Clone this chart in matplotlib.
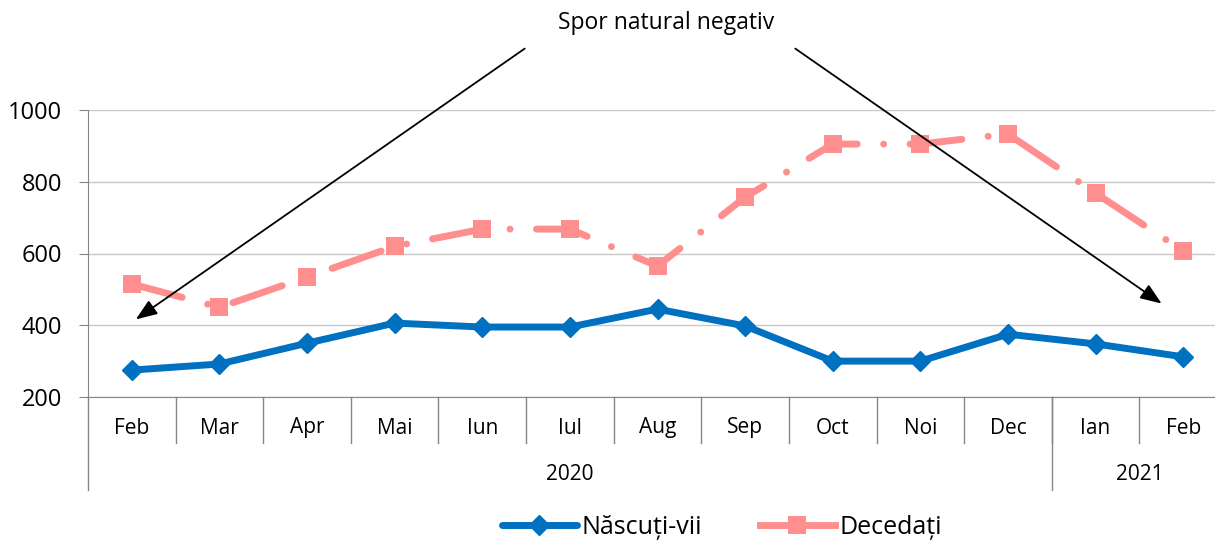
import matplotlib.pyplot as plt
import matplotlib.transforms as mtransforms

# data
months = ['Feb', 'Mar', 'Apr', 'Mai', 'Iun', 'Iul', 'Aug', 'Sep', 'Oct', 'Noi', 'Dec', 'Ian', 'Feb']
years = ['2020', '2021']
year_counts = [11, 2]
nascuti = [275, 292, 350, 406, 395, 395, 445, 398, 300, 300, 375, 348, 312]
decedati = [515, 450, 534, 620, 668, 668, 565, 757, 905, 905, 933, 768, 607]

plt.rcParams['font.family'] = ['Open Sans', 'DejaVu Sans']

fig = plt.figure(figsize=(12.15, 5.42), dpi=100)
ax = fig.add_axes([88/1215, 1-397/542, (1227-88)/1215, (397-110)/542])

x = list(range(len(months)))
blue = '#0070C0'
pink = '#FF8F8F'

ax.plot(x, nascuti, color=blue, lw=5, marker='D', ms=10, solid_capstyle='round',
        solid_joinstyle='round', label='Născuți-vii', zorder=4)
l2, = ax.plot(x, decedati, color=pink, lw=5, marker='s', ms=12.5, mew=0,
              dash_capstyle='round', label='Decedați', zorder=3)
l2.set_dashes((7.5, 3.8, 0.01, 3.8))

ax.set_xlim(-0.5, len(months) - 0.5)
ax.set_ylim(200, 1000)
ax.set_yticks([200, 400, 600, 800, 1000])
ax.tick_params(axis='y', labelsize=17, length=6.5, color='#868686', pad=12)
ax.yaxis.grid(True, color='#c8c8c8', lw=1)
ax.set_axisbelow(True)
ax.set_xticks([])
for s in ['top', 'right']:
    ax.spines[s].set_visible(False)
ax.spines['left'].set_color('#868686')
ax.spines['bottom'].set_color('#868686')

# two-level category axis
trans = mtransforms.blended_transform_factory(ax.transData, fig.transFigure)
y_axis = 1 - 397/542
y_lvl1 = 1 - 443/542
y_lvl2 = 1 - 490/542
for i in range(len(months)):
    ax.text(i, 1 - 428/542, months[i], transform=trans, ha='center', va='center', fontsize=15)
for i in range(1, len(months)):
    ax.plot([i - 0.5, i - 0.5], [y_axis, y_lvl1], transform=trans, color='#868686', lw=1, clip_on=False)
ax.plot([-0.5, -0.5], [y_axis, y_lvl2], transform=trans, color='#868686', lw=1, clip_on=False)
start = 0
for yr, n in zip(years, year_counts):
    ax.text(start + (n - 1) / 2, 1 - 475/542, yr, transform=trans, ha='center', va='center', fontsize=15)
    start += n
    if start < len(months):
        ax.plot([start - 0.5, start - 0.5], [y_axis, y_lvl2], transform=trans, color='#868686', lw=1, clip_on=False)

# annotation
fig.text(666/1215, 1 - 23/542, 'Spor natural negativ', ha='center', va='center', fontsize=16.5)
arrow = dict(arrowstyle='-|>,head_length=1.3,head_width=0.5', color='black', lw=1.3)
ax.annotate('', xy=(0.02, 412), xycoords='data', xytext=(527/1215, 1 - 47/542),
            textcoords='figure fraction', arrowprops=arrow)
ax.annotate('', xy=(11.78, 456), xycoords='data', xytext=(793/1215, 1 - 47/542),
            textcoords='figure fraction', arrowprops=arrow)

h1, lab1 = ax.get_legend_handles_labels()
leg = fig.legend(h1, lab1, loc='center', bbox_to_anchor=(722/1215, 1 - 527/542), ncol=2, frameon=False,
                 fontsize=18, handlelength=3.0, handletextpad=0.2, columnspacing=2.3)
leg.get_lines()[1].set_linestyle('-')

fig.savefig('out.png', dpi=100)
